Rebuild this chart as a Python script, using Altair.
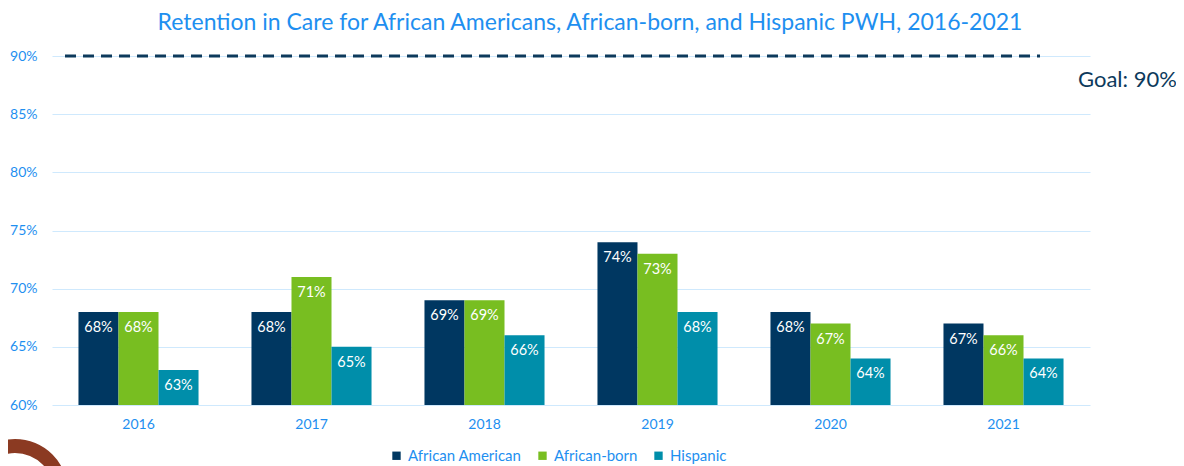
import altair as alt
import pandas as pd

years = ["2016", "2017", "2018", "2019", "2020", "2021"]
groups = ["African American", "African-born", "Hispanic"]
african_american = [68, 68, 69, 74, 68, 67]
african_born = [68, 71, 69, 73, 67, 66]
hispanic = [63, 65, 66, 68, 64, 64]
y_ticks = [60, 65, 70, 75, 80, 85, 90]
goal = 90
colors = ["#003761", "#78be21", "#008eaa"]

rows = []
for i, yr in enumerate(years):
    for g, vals in zip(groups, [african_american, african_born, hispanic]):
        rows.append({"year": yr, "group": g, "value": vals[i]})
df = pd.DataFrame(rows)

FONT = "Lato"
BLUE = "#1e8ff0"
NAVY = "#0d3a5c"

base = alt.Chart(df)

x_enc = alt.X("year:N", sort=years,
              scale=alt.Scale(paddingInner=0.306, paddingOuter=0.153),
              axis=alt.Axis(title=None, labelAngle=0, ticks=False, domain=False,
                            labelFont=FONT, labelFontSize=14, labelColor=BLUE,
                            labelPadding=12))
xo_enc = alt.XOffset("group:N", sort=groups, scale=alt.Scale(paddingInner=0, paddingOuter=0))
y_scale = alt.Scale(domain=[60, 90], nice=False, zero=False)

bars = base.mark_bar().encode(
    x=x_enc,
    xOffset=xo_enc,
    y=alt.Y("value:Q", scale=y_scale,
            axis=alt.Axis(title=None, values=y_ticks, labelExpr="datum.value + '%'",
                          ticks=False, domain=False, gridColor="#cfe9fd", gridWidth=1,
                          labelFont=FONT, labelFontSize=14, labelColor=BLUE,
                          labelPadding=15)),
    y2=alt.datum(60),
    color=alt.Color("group:N", sort=groups,
                    scale=alt.Scale(domain=groups, range=colors),
                    legend=alt.Legend(title=None, orient="none", direction="horizontal",
                                      legendX=337, legendY=392, symbolType="square",
                                      symbolSize=70, symbolStrokeWidth=0,
                                      labelFont=FONT, labelFontSize=15, labelColor=BLUE,
                                      columnPadding=13, labelOffset=4)),
)

labels = base.mark_text(color="white", font=FONT, fontSize=14.5, dy=16).encode(
    x=alt.X("year:N", sort=years),
    xOffset=alt.XOffset("group:N", sort=groups),
    y=alt.Y("value:Q", scale=y_scale),
    text=alt.Text("label:N"),
).transform_calculate(label="datum.value + '%'")

goal_df = pd.DataFrame({"goal": [goal], "txt": ["Goal: " + str(goal) + "%"]})
goal_line = alt.Chart(goal_df).mark_rule(color=NAVY, strokeWidth=3, strokeDash=[11, 7]).encode(
    y=alt.Y("goal:Q", scale=y_scale),
    x=alt.value(13),
    x2=alt.value(988),
)
goal_text = alt.Chart(goal_df).mark_text(color=NAVY, font=FONT, fontSize=22, align="left",
                                         baseline="middle").encode(
    x=alt.value(1026),
    y=alt.value(24),
    text="txt:N",
)

deco = alt.Chart(pd.DataFrame({"a": [1]})).mark_arc(color="#8b3a22").encode(
    x=alt.value(-37), y=alt.value(436),
    radius=alt.value(53), radius2=alt.value(39),
    theta=alt.value(0), theta2=alt.value(6.2832),
)

chart = alt.layer(bars, labels, goal_line, goal_text, deco).properties(
    width=1038, height=349,
    autosize=alt.AutoSizeParams(type="none"),
    padding={"left": 44, "top": 48, "right": 86, "bottom": 61},
    title=alt.TitleParams("Retention in Care for African Americans, African-born, and Hispanic PWH, 2016-2021",
                          font=FONT, fontSize=23, fontWeight="normal", color=BLUE,
                          anchor="middle", dx=19, offset=14),
).configure_view(stroke=None)

chart.save("out.html", embed_options={"renderer": "svg", "actions": False})
